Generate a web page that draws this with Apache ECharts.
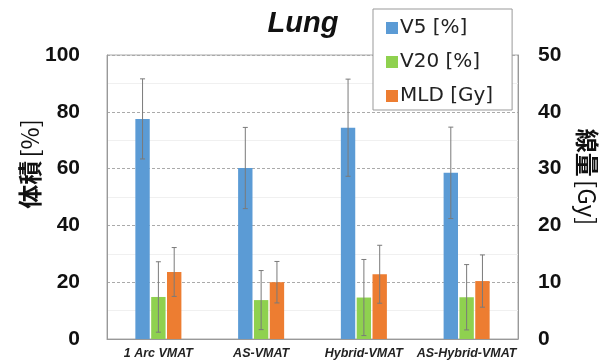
<!DOCTYPE html>
<html><head><meta charset="utf-8">
<script src="https://cdn.jsdelivr.net/npm/echarts@6/dist/echarts.min.js"></script>
<style>html,body{margin:0;padding:0;background:#fff}#c{width:610px;height:362px}</style>
</head><body><div id="c"></div>
<script>
const categories = ['1 Arc VMAT', 'AS-VMAT', 'Hybrid-VMAT', 'AS-Hybrid-VMAT'];
const v5 = [77.5, 60.2, 74.4, 58.5];
const v5Sd = [14.1, 14.3, 17.1, 16.1];
const v20 = [14.8, 13.7, 14.6, 14.7];
const v20Sd = [12.4, 10.4, 13.4, 11.5];
const mld = [11.8, 10.0, 11.4, 10.2];
const mldSd = [4.3, 3.65, 5.1, 4.6];
const leftTicks = [0, 20, 40, 60, 80, 100];
const rightTicks = [0, 10, 20, 30, 40, 50];

const colors = ['#5b9bd5', '#8fd14f', '#ed7d31'];
const BW = 0.14, GAP = 0.1;
const ff = 'Liberation Sans, Arial, Noto Sans CJK JP, sans-serif';

function errSeries(vals, sds, idx, axisIdx) {
  return {
    type: 'custom', yAxisIndex: axisIdx, z: 10, silent: true,
    data: vals.map((v, i) => [i, v - sds[i], v + sds[i]]),
    renderItem: function (params, api) {
      const band = api.size([1, 0])[0];
      const bw = band * BW;
      const off = (idx - 1) * bw * (1 + GAP);
      const lo = api.coord([api.value(0), api.value(1)]);
      const hi = api.coord([api.value(0), api.value(2)]);
      const x = lo[0] + off;
      const c = 2.5;
      const st = { stroke: '#7a7a7a', lineWidth: 1 };
      return { type: 'group', children: [
        { type: 'line', shape: { x1: x, y1: lo[1], x2: x, y2: hi[1] }, style: st },
        { type: 'line', shape: { x1: x - c, y1: lo[1], x2: x + c, y2: lo[1] }, style: st },
        { type: 'line', shape: { x1: x - c, y1: hi[1], x2: x + c, y2: hi[1] }, style: st }
      ]};
    }
  };
}

const nameRich = {
  b: { fontFamily: 'Noto Sans CJK JP', fontSize: 24, fontWeight: 'bold', fill: '#111' },
  r: { fontFamily: 'Noto Sans CJK JP', fontSize: 24, fill: '#111' }
};

const chart = echarts.init(document.getElementById('c'));
chart.setOption({
  animation: false,
  title: { text: 'Lung', left: 298, top: 4, textAlign: 'center',
    textStyle: { fontFamily: ff, fontSize: 29, fontWeight: 'bold', fontStyle: 'italic', color: '#111' } },
  legend: {
    orient: 'vertical', left: 373, top: 9, z: 20,
    backgroundColor: '#fff', borderColor: '#999', borderWidth: 1,
    padding: [9, 19, 4, 13], itemGap: 14, itemWidth: 12, itemHeight: 12,
    icon: 'rect',
    textStyle: { fontFamily: 'DejaVu Sans, sans-serif', fontSize: 20, color: '#222', padding: [0, 0, 0, -3] },
    data: ['V5 [%]', 'V20 [%]', 'MLD [Gy]']
  },
  graphic: [
    { type: 'text', x: 30, y: 164, rotation: Math.PI / 2, z: 10,
      style: { text: '{b|体積} {r|[%]}', rich: nameRich, align: 'center', verticalAlign: 'middle' } },
    { type: 'text', x: 587, y: 177, rotation: -Math.PI / 2, z: 10,
      style: { text: '{b|線量} {r|[Gy]}', rich: nameRich, align: 'center', verticalAlign: 'middle' } }
  ],
  grid: { left: 107, right: 92, top: 55, bottom: 23, show: true, borderColor: '#aaa', borderWidth: 1 },
  xAxis: {
    type: 'category', data: categories,
    axisLine: { lineStyle: { color: '#999' } }, axisTick: { show: false },
    axisLabel: { interval: 0, fontFamily: ff, fontSize: 12.5, fontWeight: 'bold', fontStyle: 'italic', color: '#222', margin: 8 }
  },
  yAxis: [
    { type: 'value', min: leftTicks[0], max: leftTicks[leftTicks.length - 1], interval: 20,
      axisLine: { show: true, lineStyle: { color: '#999' } }, axisTick: { show: false },
      axisLabel: { fontFamily: ff, fontSize: 21, fontWeight: 'bold', color: '#111', margin: 27 },
      splitLine: { lineStyle: { color: '#aaa', type: [3, 2] } },
      minorTick: { show: false, splitNumber: 2 },
      minorSplitLine: { show: true, lineStyle: { color: '#f0f0f0' } }
    },
    { type: 'value', min: rightTicks[0], max: rightTicks[rightTicks.length - 1], interval: 10,
      axisLine: { show: true, lineStyle: { color: '#999' } }, axisTick: { show: false },
      axisLabel: { fontFamily: ff, fontSize: 21, fontWeight: 'bold', color: '#111', margin: 20 },
      splitLine: { show: false }
    }
  ],
  series: [
    { name: 'V5 [%]', type: 'bar', data: v5, barWidth: (BW * 100) + '%', barGap: (GAP * 100) + '%',
      itemStyle: { color: colors[0] } },
    { name: 'V20 [%]', type: 'bar', data: v20, barWidth: (BW * 100) + '%', barGap: (GAP * 100) + '%',
      itemStyle: { color: colors[1] } },
    { name: 'MLD [Gy]', type: 'bar', yAxisIndex: 1, data: mld, barWidth: (BW * 100) + '%', barGap: (GAP * 100) + '%',
      itemStyle: { color: colors[2] } },
    errSeries(v5, v5Sd, 0, 0),
    errSeries(v20, v20Sd, 1, 0),
    errSeries(mld, mldSd, 2, 1)
  ]
});
</script></body></html>
